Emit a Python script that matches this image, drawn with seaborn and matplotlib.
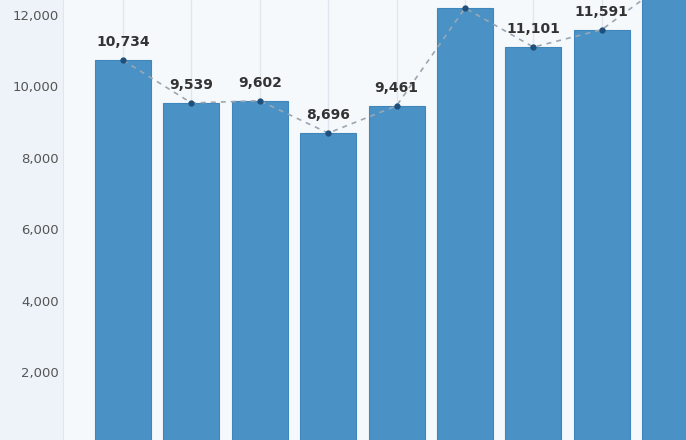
import numpy as np
import matplotlib
matplotlib.use('Agg')
import matplotlib.pyplot as plt
import seaborn as sns

# data (labels on bars 6 and 9 are cropped, values estimated)
categories = ['2015', '2016', '2017', '2018', '2019', '2020', '2021', '2022', '2023']
values = [10734, 9539, 9602, 8696, 9461, 12195, 11101, 11591, 13000]
shown_labels = ['10,734', '9,539', '9,602', '8,696', '9,461', '', '11,101', '11,591', '']
yticks = [2000, 4000, 6000, 8000, 10000, 12000]

sns.set_style('white')
plt.rcParams['font.family'] = ['DejaVu Sans']

fig = plt.figure(figsize=(6.86, 4.4), dpi=100)
fig.patch.set_facecolor('#edf3f9')
ax = fig.add_axes([63 / 686, 0, 623 / 686, 1])
ax.set_facecolor('#f6f9fc')

# vertical guide lines at each category
for i in range(len(categories)):
    ax.axvline(i, color='#dfe6ee', lw=1, zorder=0)

sns.barplot(x=categories, y=values, color='#4a92c6', width=0.82,
            edgecolor='#3f86bd', linewidth=0.8, saturation=1, ax=ax, zorder=2)

xs = np.arange(len(categories))
ax.plot(xs, values, ls=(0, (3, 3)), color='#9aa7b3', lw=1.2, zorder=3)
ax.plot(xs, values, 'o', color='#1f4f7a', ms=3.5, zorder=4)

for x, v, lab in zip(xs, values, shown_labels):
    if lab:
        ax.annotate(lab, (x, v), xytext=(0, 8), textcoords='offset points',
                    ha='center', va='bottom', fontsize=10, fontweight='bold',
                    color='#333333', zorder=5)

ax.set_xlim(-0.877, 8.23)
ax.set_ylim(110, 12420)
ax.set_yticks(yticks)
ax.set_yticklabels([f'{t:,}' for t in yticks], fontsize=9.5, color='#555555')
ax.tick_params(axis='y', length=0, pad=3)
ax.set_xticks([])
ax.set_xlabel('')
ax.set_ylabel('')
for s in ['top', 'right', 'bottom']:
    ax.spines[s].set_visible(False)
ax.spines['left'].set_color('#dfe6ee')

fig.savefig('out.png', dpi=100, facecolor=fig.get_facecolor())
